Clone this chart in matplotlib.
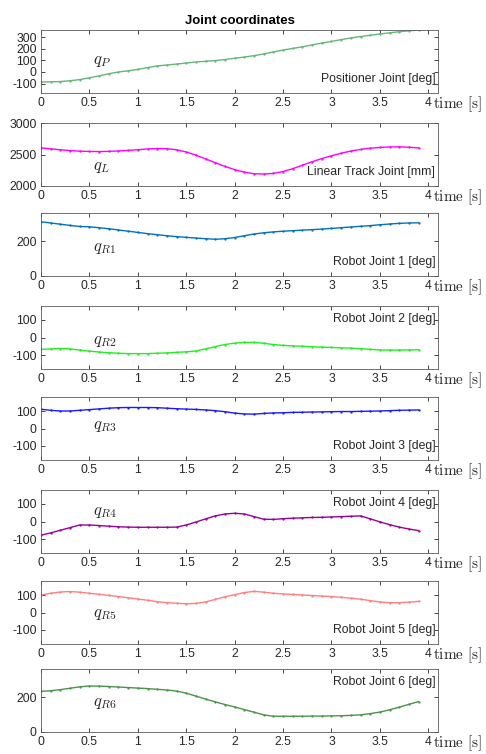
import matplotlib
matplotlib.use("Agg")
import matplotlib.pyplot as plt
import numpy as np

plt.rcParams['font.family'] = ['Liberation Sans', 'DejaVu Sans']
plt.rcParams['mathtext.fontset'] = 'cm'
plt.rcParams['axes.unicode_minus'] = False

# time samples (0.1 s steps)
t = np.round(np.arange(0, 4.0, 0.1), 1)

q_P = [-85, -84, -82, -75, -65, -50, -33, -15, 0, 10, 22, 38, 52, 60, 68, 77, 86, 92, 98, 107,
       118, 128, 140, 155, 172, 188, 202, 216, 232, 248, 262, 278, 292, 304, 315, 326, 336, 345, 353, 360]
q_L = [2605, 2590, 2575, 2562, 2553, 2548, 2547, 2550, 2556, 2565, 2576, 2588, 2595, 2592, 2575, 2540,
       2490, 2430, 2370, 2310, 2260, 2220, 2195, 2190, 2200, 2230, 2275, 2330, 2385, 2435, 2480, 2520,
       2555, 2580, 2600, 2612, 2620, 2622, 2615, 2605]
q_R1 = [310, 303, 296, 289, 283, 281, 276, 270, 263, 256, 249, 242, 236, 230, 225, 221, 217, 213, 210, 213,
        220, 230, 240, 247, 252, 256, 259, 262, 265, 268, 272, 276, 280, 284, 288, 293, 297, 301, 303, 304]
q_R2 = [-68, -65, -63, -65, -72, -78, -83, -87, -90, -92, -92, -92, -90, -88, -85, -82, -77, -65, -52, -40,
        -32, -28, -28, -33, -40, -45, -48, -50, -53, -55, -57, -59, -61, -64, -68, -71, -72, -72, -71, -70]
q_R3 = [110, 104, 100, 100, 104, 108, 112, 116, 119, 120, 120, 120, 119, 116, 113, 111, 109, 106, 102, 96,
        88, 83, 82, 86, 89, 90, 92, 93, 94, 95, 96, 97, 97, 98, 99, 100, 102, 104, 105, 106]
q_R4 = [-78, -65, -50, -35, -20, -20, -23, -27, -30, -32, -33, -33, -33, -33, -32, -20, -3, 15, 32, 43,
        47, 43, 28, 13, 12, 16, 19, 21, 23, 24, 26, 28, 30, 32, 15, -2, -18, -32, -43, -52]
q_R5 = [100, 110, 117, 120, 116, 110, 104, 98, 91, 84, 77, 70, 62, 56, 53, 50, 52, 60, 75, 90,
        102, 114, 121, 116, 110, 106, 103, 100, 97, 94, 91, 87, 82, 76, 68, 60, 56, 56, 59, 64]
q_R6 = [232, 236, 242, 250, 258, 263, 262, 260, 257, 254, 251, 248, 244, 240, 234, 222, 205, 188, 172, 157,
        143, 128, 113, 98, 90, 90, 90, 90, 91, 91, 92, 93, 95, 98, 105, 114, 127, 142, 158, 174]

series = [q_P, q_L, q_R1, q_R2, q_R3, q_R4, q_R5, q_R6]
symbols = ['$q_P$', '$q_L$', '$q_{R1}$', '$q_{R2}$', '$q_{R3}$', '$q_{R4}$', '$q_{R5}$', '$q_{R6}$']
names = ['Positioner Joint [deg]', 'Linear Track Joint [mm]', 'Robot Joint 1 [deg]', 'Robot Joint 2 [deg]',
         'Robot Joint 3 [deg]', 'Robot Joint 4 [deg]', 'Robot Joint 5 [deg]', 'Robot Joint 6 [deg]']
colors = ['#66b57a', '#ff00ff', '#0072bd', '#22ee22', '#1a1aff', '#990099', '#ff8080', '#4a944a']
ylims = [(-180, 360), (2000, 3000), (0, 360), (-180, 180), (-180, 180), (-180, 180), (-180, 180), (0, 360)]
yticks = [[-100, 0, 100, 200, 300], [2000, 2500, 3000], [0, 200], [-100, 0, 100],
          [-100, 0, 100], [-100, 0, 100], [-100, 0, 100], [0, 200]]
name_top = [False, False, False, True, False, True, False, True]
sym_y = [0.5, 0.3, 0.43, 0.43, 0.53, 0.64, 0.47, 0.45]

W, H = 486, 754
fig = plt.figure(figsize=(W / 100, H / 100), dpi=100)

tops = [30, 123, 213, 306, 397, 490, 581, 669]
ax_h = 63
left, right = 41, 438
edge = '#262626'

for i in range(8):
    ax = fig.add_axes([left / W, 1 - (tops[i] + ax_h) / H, (right - left) / W, ax_h / H])
    ax.plot(t, series[i], color=colors[i], lw=1.0, marker='.', ms=1.3)
    ax.set_xlim(0, 4.1)
    ax.set_ylim(*ylims[i])
    ax.set_yticks(yticks[i])
    ax.set_xticks(np.arange(0, 4.01, 0.5))
    ax.set_xticklabels(['0', '0.5', '1', '1.5', '2', '2.5', '3', '3.5', '4'])
    ax.tick_params(direction='in', top=True, right=True, length=3, width=0.6,
                   labelsize=8.7, colors=edge, pad=3)
    for s in ax.spines.values():
        s.set_color('#5a5a5a')
        s.set_linewidth(0.6)
    ax.text(0.987, -0.18, r'$\mathrm{time}\ [\mathrm{s}]$', transform=ax.transAxes,
            ha='left', va='center', fontsize=11, color=edge)
    ax.text(0.13, sym_y[i], symbols[i], transform=ax.transAxes, ha='left', va='center',
            fontsize=12, color=edge)
    ax.text(0.993, 0.8 if name_top[i] else 0.22, names[i], transform=ax.transAxes,
            ha='right', va='center', fontsize=8.8, color=edge)
    if i == 0:
        ax.set_title('Joint coordinates', fontsize=9.5, fontweight='bold', pad=4)

fig.savefig('out.png', dpi=100)
